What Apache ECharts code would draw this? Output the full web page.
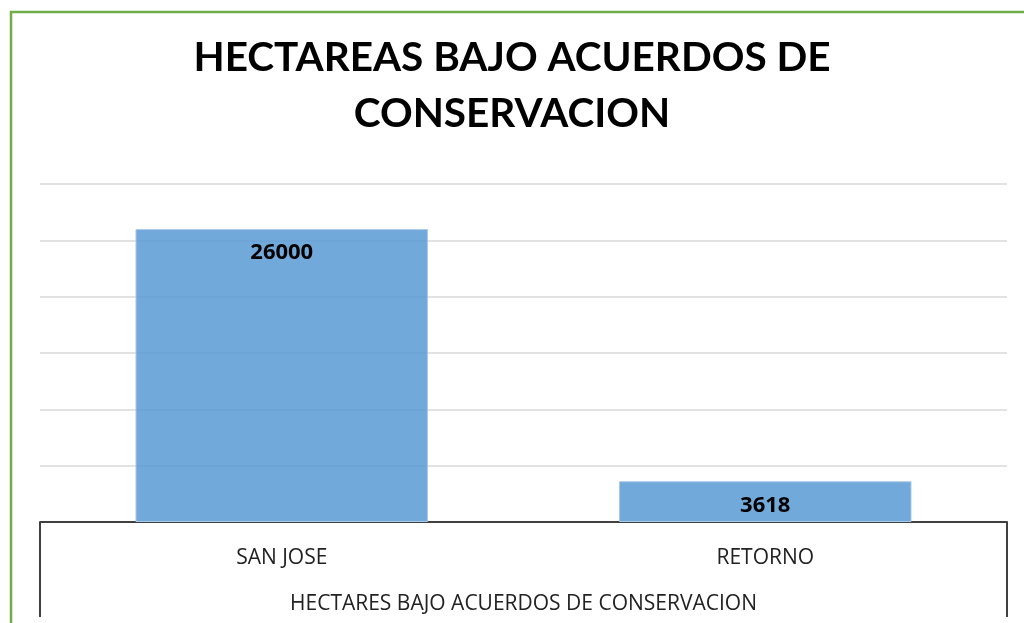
<!DOCTYPE html>
<html>
<head>
<meta charset="utf-8">
<script src="https://cdn.jsdelivr.net/npm/echarts@6/dist/echarts.min.js"></script>
<style>
  html, body { margin: 0; padding: 0; background: #fff; }
  #chart { width: 1024px; height: 623px; }
</style>
</head>
<body>
<div id="chart"></div>
<script>
// datos
const categories = ['SAN JOSE', 'RETORNO']
const hectares = [26000, 3618]
const titleText = 'HECTAREAS BAJO ACUERDOS DE\nCONSERVACION'
const axisName = 'HECTARES BAJO ACUERDOS DE CONSERVACION'

const titleFont = 'Lato, "Open Sans", sans-serif'
const font = '"Open Sans", Lato, sans-serif'

const chart = echarts.init(document.getElementById('chart'))

const option = {
  backgroundColor: '#fff',
  animation: false,
  title: {
    text: titleText,
    left: 'center',
    top: 25,
    textStyle: {
      fontFamily: titleFont,
      fontWeight: 'bold',
      fontSize: 40.5,
      lineHeight: 56,
      color: '#000'
    }
  },
  grid: {
    top: 184,
    left: 40,
    right: 17,
    bottom: 101,
    outerBoundsMode: 'none'
  },
  // marco verde y lineas de la tabla
  graphic: [
    {
      type: 'rect',
      shape: { x: 11, y: 12, width: 1040, height: 640 },
      style: { fill: 'none', stroke: '#70AD47', lineWidth: 2.5 },
      silent: true
    },
    {
      type: 'line',
      shape: { x1: 40, y1: 522, x2: 40, y2: 617 },
      style: { stroke: '#404040', lineWidth: 2 },
      silent: true
    },
    {
      type: 'line',
      shape: { x1: 1007, y1: 522, x2: 1007, y2: 617 },
      style: { stroke: '#404040', lineWidth: 2 },
      silent: true
    }
  ],
  xAxis: {
    type: 'category',
    data: categories,
    name: axisName,
    nameLocation: 'middle',
    nameGap: 72,
    nameTextStyle: {
      fontFamily: font,
      fontSize: 21,
      color: '#222'
    },
    axisLine: {
      lineStyle: { color: '#404040', width: 2 }
    },
    axisTick: { show: false },
    axisLabel: {
      fontFamily: font,
      fontSize: 21,
      color: '#222',
      margin: 26
    }
  },
  yAxis: {
    type: 'value',
    min: 0,
    max: 30000,
    interval: 5000,
    axisLabel: { show: false },
    axisLine: { show: false },
    axisTick: { show: false },
    splitLine: {
      lineStyle: { color: '#D9D9D9', width: 1.5 }
    }
  },
  series: [
    {
      type: 'bar',
      data: hectares,
      barWidth: '60.5%',
      z: 1,
      itemStyle: {
        color: 'rgba(91,155,213,0.86)',
        borderColor: '#A9C9E8',
        borderWidth: 1
      },
      label: {
        show: true,
        position: 'insideTop',
        distance: 13,
        fontFamily: font,
        fontWeight: 'bold',
        fontSize: 22,
        color: '#000'
      }
    }
  ]
}

chart.setOption(option)
</script>
</body>
</html>
